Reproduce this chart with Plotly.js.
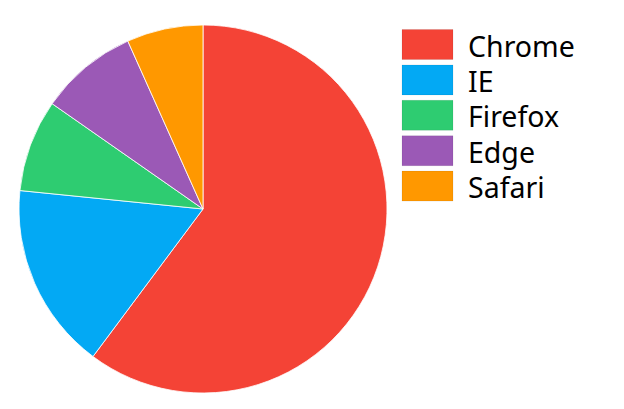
<!DOCTYPE html>
<html>
<head>
<meta charset="utf-8">
<script src="https://cdn.plot.ly/plotly-3.0.1.min.js"></script>
<style>html,body{margin:0;padding:0;background:#fff;}#chart{width:624px;height:409px;}</style>
</head>
<body>
<div id="chart"></div>
<script>
var browsers = ["Chrome", "IE", "Firefox", "Edge", "Safari"];
var shares = [60.2, 16.4, 8.1, 8.6, 6.7];
var colors = ["#F44336", "#03A9F4", "#2ECC71", "#9B59B6", "#FF9800"];

var W = 624, H = 409;
var trace = {
  type: "pie",
  labels: browsers,
  values: shares,
  sort: false,
  direction: "clockwise",
  rotation: 0,
  textinfo: "none",
  hoverinfo: "label+percent",
  marker: {colors: colors, line: {color: "rgba(255,255,255,0.8)", width: 1}},
  domain: {x: [19 / W, 387 / W], y: [16 / H, 384 / H]},
  showlegend: false
};

// custom legend with large swatches
var shapes = [], annotations = [];
var top0 = 29.5, pitch = 35.4, swH = 30, swX0 = 402, swX1 = 453, txtX = 466;
for (var i = 0; i < browsers.length; i++) {
  var y0 = top0 + i * pitch;
  shapes.push({
    type: "rect", xref: "paper", yref: "paper",
    x0: swX0 / W, x1: swX1 / W,
    y0: 1 - (y0 + swH) / H, y1: 1 - y0 / H,
    fillcolor: colors[i], line: {width: 0.5, color: "rgba(0,0,0,0.15)"}
  });
  annotations.push({
    xref: "paper", yref: "paper",
    x: txtX / W, y: 1 - (y0 + swH / 2 + 1) / H,
    xanchor: "left", yanchor: "middle",
    text: browsers[i], showarrow: false,
    font: {family: "Noto Sans, Open Sans, sans-serif", size: 28.5, color: "#000"}
  });
}

var layout = {
  width: W, height: H,
  margin: {l: 0, r: 0, t: 0, b: 0},
  paper_bgcolor: "#fff",
  showlegend: false,
  shapes: shapes,
  annotations: annotations
};
Plotly.newPlot("chart", [trace], layout, {displayModeBar: false, staticPlot: true});
</script>
</body>
</html>
